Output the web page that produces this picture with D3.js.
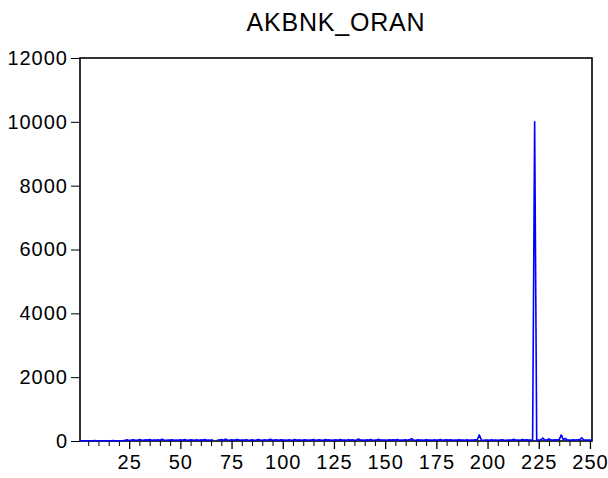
<!DOCTYPE html>
<html>
<head>
<meta charset="utf-8">
<script src="https://cdn.jsdelivr.net/npm/d3@7"></script>
<style>
  html, body { margin: 0; padding: 0; background: #fff; }
  svg { display: block; }
</style>
</head>
<body>
<svg id="chart" width="608" height="478"></svg>
<script>
const title = "AKBNK_ORAN";
const yTicks = [0, 2000, 4000, 6000, 8000, 10000, 12000];
const xMajorTicks = [25, 50, 75, 100, 125, 150, 175, 200, 225, 250];
const xMinorTicks = [5, 10, 15, 20, 30, 35, 40, 45, 55, 60, 65, 70, 80, 85, 90, 95,
  105, 110, 115, 120, 130, 135, 140, 145, 155, 160, 165, 170, 180, 185, 190, 195,
  205, 210, 215, 220, 230, 235, 240, 245];
// observations 1..251 (null = missing)
const values = [
  8, 6, 10, 7, 9, 5, 8, 11, 6, 9,
  7, 10, 8, 6, 9, 7, 12, 8, 10, 6,
  9, 14, 22, 35, 18, 28, 40, 25, 19, 48,
  30, 22, 36, 27, 45, 20, 31, 26, 38, 24,
  52, 29, 21, 33, 27, 41, 23, 30, 19, 37,
  26, 44, 28, 22, 35, 31, 25, 39, 20, 34,
  27, 46, 24, 30, 21, 36, null, 28, 33, 45,
  25, 58, 30, 22, 40, 27, 35, 50, 24, 31,
  26, 42, 29, 21, 37, 25, 33, 48, 28, 22,
  39, 26, 31, 55, 24, 30, 36, 23, 41, 27,
  32, 25, 38, 22, 29, 44, 26, 35, 21, 30,
  40, 24, 33, 28, 47, 25, 31, 36, 22, 29,
  43, 27, 34, 23, 30, 38, 26, 45, 28, 32,
  24, 37, 29, 41, 25, 33, 62, 27, 30, 22,
  35, 28, 44, 25, 31, 39, 50, 26, 33, 29,
  24, 40, 27, 34, 30, 46, 25, 32, 28, 38,
  26, 43, 70, 29, 24, 35, 27, 31, 25, 40,
  28, 33, 22, 37, 26, 30, 45, 24, 29, 34,
  27, 38, 23, 31, 26, 42, 28, 33, 25, 36,
  24, 30, 27, 35, 40, 190, 30, 22, 28, 33,
  25, 37, 26, 31, 24, 29, 34, 27, 23, 32,
  28, 36, 50, 26, 31, 24, 45, 29, 35, 27,
  30, 25, 10000, 28, 33, 35, 90, 30, 38, 60,
  32, 28, 35, 30, 45, 190, 40, 80, 30, 28,
  33, 36, 30, 40, 35, 100, 30, 28, 32, 30,
  29
];
const obs = values.map((v, i) => i + 1);

const svg = d3.select("#chart");
const L = 80, R = 592, T = 58, B = 441;

const x = d3.scaleLinear().domain([1, values.length]).range([L, R]);
const y = d3.scaleLinear().domain([0, 12000]).range([B, T]);

const font = "Arial, 'Liberation Sans', sans-serif";

// title
svg.append("text")
  .attr("x", (L + R) / 2).attr("y", 31)
  .attr("text-anchor", "middle")
  .attr("font-family", font).attr("font-size", 25)
  .attr("letter-spacing", 0.8)
  .attr("fill", "#000")
  .text(title);

// y axis
const yAxis = svg.append("g")
  .attr("transform", `translate(${L},0)`)
  .call(d3.axisLeft(y).tickValues(yTicks).tickSize(9).tickPadding(3).tickFormat(d3.format("d")));
yAxis.select(".domain").remove();
yAxis.selectAll("line").attr("stroke", "#000").attr("stroke-width", 1);
yAxis.selectAll("text").attr("font-family", font).attr("font-size", 20)
  .attr("letter-spacing", 1).attr("fill", "#000");

// x minor ticks
const xMinor = svg.append("g")
  .attr("transform", `translate(0,${B})`)
  .call(d3.axisBottom(x).tickValues(xMinorTicks).tickSize(5).tickFormat(""));
xMinor.select(".domain").remove();
xMinor.selectAll("line").attr("stroke", "#000").attr("stroke-width", 1);

// x major ticks
const xAxis = svg.append("g")
  .attr("transform", `translate(0,${B})`)
  .call(d3.axisBottom(x).tickValues(xMajorTicks).tickSize(8).tickPadding(6).tickFormat(d3.format("d")));
xAxis.select(".domain").remove();
xAxis.selectAll("line").attr("stroke", "#000").attr("stroke-width", 1.3);
xAxis.selectAll("text").attr("font-family", font).attr("font-size", 20)
  .attr("letter-spacing", 1).attr("fill", "#000");

// frame
svg.append("rect")
  .attr("x", L).attr("y", T)
  .attr("width", R - L).attr("height", B - T)
  .attr("fill", "none")
  .attr("stroke", "#000")
  .attr("stroke-width", 1.6);

// line (drawn over the frame, as in the reference)
const line = d3.line()
  .defined(d => d[1] !== null)
  .x(d => x(d[0]))
  .y(d => y(d[1]));
svg.append("path")
  .datum(obs.map((o, i) => [o, values[i]]))
  .attr("fill", "none")
  .attr("stroke", "#0000ff")
  .attr("stroke-width", 1.6)
  .attr("stroke-linejoin", "round")
  .attr("d", line);
</script>
</body>
</html>
